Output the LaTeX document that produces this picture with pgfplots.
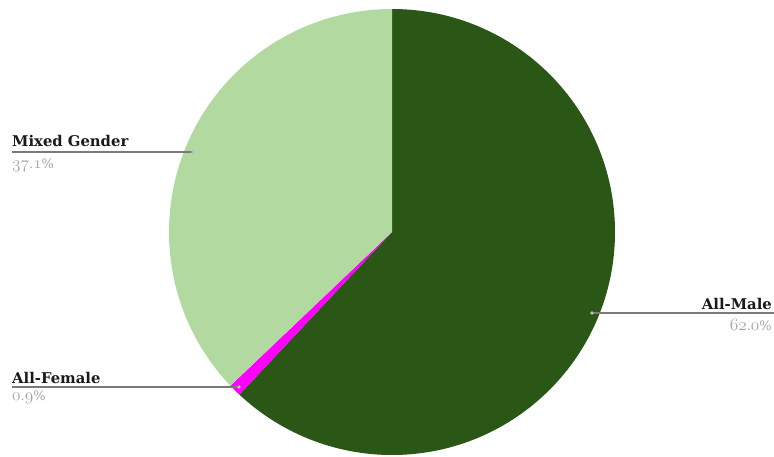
\documentclass[border=0pt]{standalone}
\usepackage{pgfplots}
\pgfplotsset{compat=1.18}
\usepackage{pgfplotstable}
\usepackage{fontspec}
\setmainfont{DejaVu Serif}
\definecolor{male}{HTML}{2B5716}
\definecolor{mixed}{HTML}{B2D9A0}
\definecolor{female}{HTML}{FF00FF}
\definecolor{lbl}{HTML}{1A1A1A}
\definecolor{pct}{HTML}{A4A4A4}
\definecolor{lead}{HTML}{7A7A7A}
\newcommand\osf[1]{{\fontsize{17}{19}\selectfont\usefont{OML}{cmm}{m}{it}#1}}
\pgfplotstableread{
label value
All-Male 62.0
All-Female 0.9
Mixed 37.1
}\piedata
\begin{document}
\begin{tikzpicture}
\useasboundingbox (0,0) rectangle (774pt,456pt);
\pgfplotstablegetelem{0}{value}\of\piedata\pgfmathsetmacro\vm{\pgfplotsretval}
\pgfplotstablegetelem{1}{value}\of\piedata\pgfmathsetmacro\vf{\pgfplotsretval}
\pgfplotstablegetelem{2}{value}\of\piedata\pgfmathsetmacro\vx{\pgfplotsretval}
\pgfmathsetmacro\aA{90}
\pgfmathsetmacro\aB{\aA-3.6*\vm}
\pgfmathsetmacro\aC{\aB-3.6*\vf}
\pgfmathsetmacro\aD{\aC-3.6*\vx}
\begin{axis}[at={(0,0)}, anchor=south west, scale only axis, width=774pt, height=456pt,
  xmin=0, xmax=774, ymin=0, ymax=456, hide axis, clip=false]
\fill[male] (axis cs:392,224) -- ++(\aA:223pt) arc[start angle=\aA, end angle=\aB, radius=223pt] -- cycle;
\fill[female] (axis cs:392,224) -- ++(\aB:223pt) arc[start angle=\aB, end angle=\aC, radius=223pt] -- cycle;
\fill[mixed] (axis cs:392,224) -- ++(\aC:223pt) arc[start angle=\aC, end angle=\aD, radius=223pt] -- cycle;
% leader lines
\draw[lead, line width=1.5pt] (axis cs:12,304) -- (axis cs:193,304);
\fill[lead!50] (axis cs:193,304) circle (1.8pt);
\draw[lead, line width=1.5pt] (axis cs:12,69) -- (axis cs:239,69);
\fill[lead!50] (axis cs:239,69) circle (1.8pt);
\draw[lead, line width=1.5pt] (axis cs:592,143) -- (axis cs:774,143);
\fill[lead!50] (axis cs:592,143) circle (1.8pt);
% labels
\node[anchor=base west, inner sep=0, text=lbl, font=\bfseries\fontsize{14.8}{16}\selectfont] at (axis cs:12,310) {Mixed Gender};
\node[anchor=base west, inner sep=0, text=pct, font=\fontsize{13}{15}\selectfont] at (axis cs:12,288) {\osf{37}.\osf{1}\%};
\node[anchor=base west, inner sep=0, text=lbl, font=\bfseries\fontsize{14.8}{16}\selectfont] at (axis cs:12,73) {All-Female};
\node[anchor=base west, inner sep=0, text=pct, font=\fontsize{13}{15}\selectfont] at (axis cs:12,56) {\osf{0}.\osf{9}\%};
\node[anchor=base east, inner sep=0, text=lbl, font=\bfseries\fontsize{14.8}{16}\selectfont] at (axis cs:772,147) {All-Male};
\node[anchor=base east, inner sep=0, text=pct, font=\fontsize{13}{15}\selectfont] at (axis cs:772,126) {\osf{62}.\osf{0}\%};
\end{axis}
\end{tikzpicture}
\end{document}
